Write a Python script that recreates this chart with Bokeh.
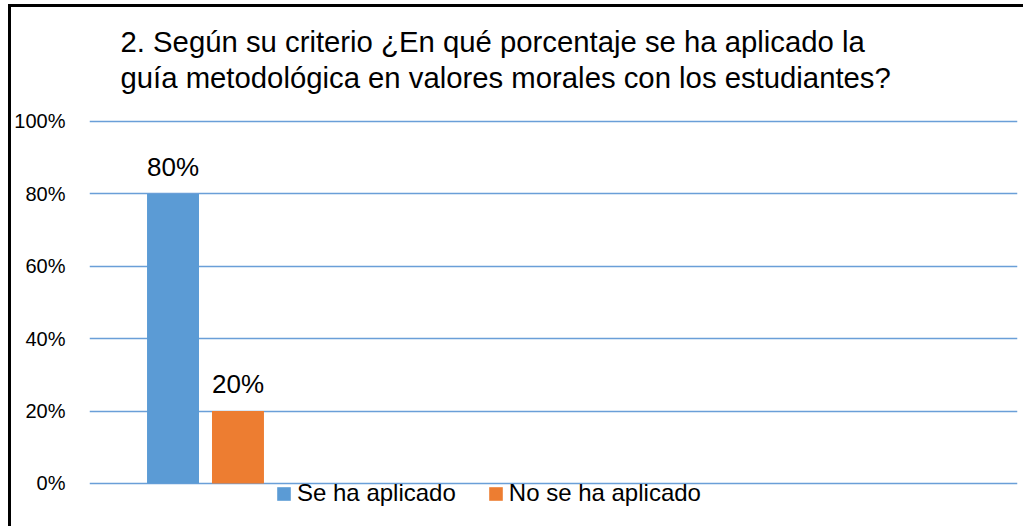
from bokeh.plotting import figure
from bokeh.models import ColumnDataSource, Range1d, FixedTicker, PrintfTickFormatter, Legend, LegendItem
from bokeh.core.properties import value
from bokeh.embed import file_html
from bokeh.resources import INLINE

title_lines = [
    "2. Según su criterio ¿En qué porcentaje se ha aplicado la",
    "guía metodológica en valores morales con los estudiantes?",
]
n_categories = 4
series = ["Se ha aplicado", "No se ha aplicado"]
series_category = [0, 0]
values = [80, 20]
y_ticks = [0, 20, 40, 60, 80, 100]
colors = ["#5B9BD5", "#ED7D31"]

FONT = "Liberation Sans"
offsets = [-0.14, 0.14]
bar_w = 0.224

src = ColumnDataSource(dict(
    x=[c + 0.5 + o for c, o in zip(series_category, offsets)],
    top=values,
    series=series,
    color=colors,
    label=[f"{v}%" for v in values],
))

# frame spans whole canvas height; title drawn inside the top band of the frame
p = figure(width=1015, height=522, x_range=Range1d(0, n_categories), y_range=Range1d(-12.71, 131.49),
           output_backend="svg", toolbar_location=None,
           min_border_left=78, min_border_right=9, min_border_top=0, min_border_bottom=0)
p.styles = {"border-top": "3px solid black", "border-left": "3px solid black",
            "border-right": "none", "border-bottom": "none",
            "margin-top": "4px", "margin-left": "8px"}
p.outline_line_color = None
p.background_fill_color = "white"
p.border_fill_color = "white"

p.xaxis.visible = False
p.xgrid.visible = False
p.ygrid.grid_line_color = "#6A9FD8"
p.ygrid.grid_line_width = 1.6

yax = p.yaxis[0]
yax.ticker = FixedTicker(ticks=y_ticks)
yax.formatter = PrintfTickFormatter(format="%d%%")
yax.axis_line_color = None
yax.major_tick_line_color = None
yax.minor_tick_line_color = None
yax.major_tick_out = 0
yax.major_tick_in = 0
yax.major_label_standoff = 24
yax.major_label_text_font = FONT
yax.major_label_text_font_size = "20px"
yax.major_label_text_color = "black"

bars = p.vbar(x="x", top="top", width=bar_w, bottom=0, color="color", line_color=None, source=src)

p.text(x="x", y="top", text="label", source=src, text_font=value(FONT), text_font_size="26px",
       text_align="center", text_baseline="alphabetic", y_offset=-27, text_color="black")

# two-line chart title, anchored at the top gridline / left frame edge
for line, dy in zip(title_lines, [-80, -44]):
    p.text(x=[0], y=[y_ticks[-1]], text=[line], text_font=value(FONT), text_font_size="29.3px",
           text_align="left", text_baseline="alphabetic", x_offset=31, y_offset=dy, text_color="black")

legend = Legend(items=[LegendItem(label=s, renderers=[bars], index=i) for i, s in enumerate(series)],
                location=(186, 22), orientation="horizontal",
                label_text_font=FONT, label_text_font_size="24px", label_text_color="black",
                glyph_width=17, glyph_height=17, label_standoff=5, spacing=31,
                padding=0, margin=0, border_line_color=None, background_fill_alpha=0)
p.add_layout(legend, "center")

open("out.html", "w").write(file_html(p, INLINE))
